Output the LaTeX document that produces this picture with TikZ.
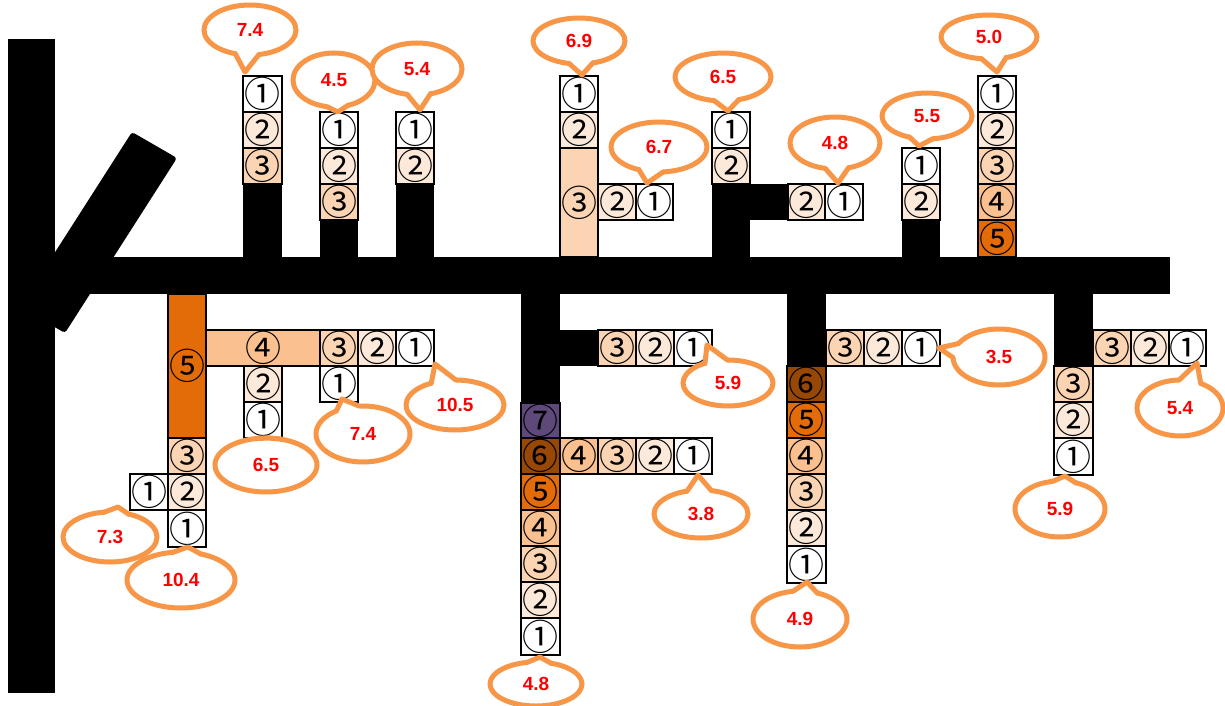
\documentclass[tikz,border=0pt]{standalone}
\usepackage{fontspec}
\setmainfont{Liberation Sans}
\newfontfamily\cjk{Noto Sans CJK JP}
\definecolor{cw}{HTML}{FFFFFF}
\definecolor{cb}{HTML}{FDE9D9}
\definecolor{cc}{HTML}{FBD4B4}
\definecolor{cd}{HTML}{FAC08F}
\definecolor{ce}{HTML}{E36C09}
\definecolor{cf}{HTML}{974806}
\definecolor{cg}{HTML}{5F497A}
\definecolor{bubc}{HTML}{F79646}
\definecolor{bubred}{HTML}{FF0000}
\tikzset{
  cel/.style={draw=black, line width=1.6pt, inner sep=0pt, text=black,
    font=\cjk\fontsize{36}{36}\selectfont},
  stem/.style={fill=black},
  bub/.style={draw=bubc, line width=5pt, fill=white},
  bubline/.style={draw=bubc, line width=5pt, line join=round, line cap=round},
  bubtext/.style={text=bubred, font=\bfseries\fontsize{19}{19}\selectfont},
}
\newcommand\cb[7]{%
  \pgfmathsetmacro\cbw{#4-#2}\pgfmathsetmacro\cbh{#5-#3}%
  \node[cel, fill=#6, minimum width=\cbw pt, minimum height=\cbh pt] (#1) at ({(#2+#4)/2},{(#3+#5)/2}) {#7};}
\newcommand\callout[8]{%
  \pgfmathsetmacro\cphi{atan2((#7-#3)/#5,(#6-#2)/#4)}%
  \pgfmathsetmacro\cax{#2+#4*cos(\cphi-15)}%
  \pgfmathsetmacro\cay{#3+#5*sin(\cphi-15)}%
  \pgfmathsetmacro\cbx{#2+#4*cos(\cphi+15)}%
  \pgfmathsetmacro\cby{#3+#5*sin(\cphi+15)}%
  \pgfmathsetmacro\ccx{#2+0.7*#4*cos(\cphi-15)}%
  \pgfmathsetmacro\ccy{#3+0.7*#5*sin(\cphi-15)}%
  \pgfmathsetmacro\cdx{#2+0.7*#4*cos(\cphi+15)}%
  \pgfmathsetmacro\cdy{#3+0.7*#5*sin(\cphi+15)}%
  \draw[bub] (#2,#3) ellipse [x radius=#4, y radius=#5];
  \fill[white] (\ccx,\ccy) -- (\cax,\cay) -- (#6,#7) -- (\cbx,\cby) -- (\cdx,\cdy) -- cycle;
  \draw[bubline] (\cax,\cay) -- (#6,#7) -- (\cbx,\cby);
  \node[bubtext] (#1) at (#2,#3) {#8};}
\begin{document}
\begin{tikzpicture}[x=1pt,y=-1pt]
\useasboundingbox (0,0) rectangle (1225,706);
% main structure
\fill[black, rounded corners=3pt] (132,132) -- (177,158) -- (65,333) -- (20,307) -- cycle;
\fill[black] (8,39) rectangle (55,693);
\fill[black] (8,257) rectangle (1170,294);
% ---- upper columns
% A
\fill[stem] (243,183) rectangle (282,258);
\cb{a1}{243}{76}{282}{112}{cw}{①}
\cb{a2}{243}{112}{282}{148}{cb}{②}
\cb{a3}{243}{148}{282}{184}{cc}{③}
% B
\fill[stem] (320,219) rectangle (358,258);
\cb{b1}{320}{112}{358}{148}{cw}{①}
\cb{b2}{320}{148}{358}{184}{cb}{②}
\cb{b3}{320}{184}{358}{220}{cc}{③}
% C
\fill[stem] (396,183) rectangle (434,258);
\cb{c1}{396}{112}{434}{148}{cw}{①}
\cb{c2}{396}{148}{434}{184}{cb}{②}
% D
\cb{d1}{560}{76}{598}{112}{cw}{①}
\cb{d2}{560}{112}{598}{148}{cb}{②}
\cb{d3}{560}{148}{598}{257}{cc}{③}
\cb{d4}{598}{184}{636}{220}{cb}{②}
\cb{d5}{636}{184}{673}{220}{cw}{①}
% E
\fill[stem] (712,183) rectangle (750,258);
\fill[stem] (749,184) rectangle (788,220);
\cb{e1}{712}{112}{750}{148}{cw}{①}
\cb{e2}{712}{148}{750}{184}{cb}{②}
\cb{e3}{788}{184}{825}{220}{cb}{②}
\cb{e4}{825}{184}{863}{220}{cw}{①}
% F
\fill[stem] (902,219) rectangle (940,258);
\cb{f1}{902}{148}{940}{184}{cw}{①}
\cb{f2}{902}{184}{940}{220}{cb}{②}
% G
\cb{g1}{978}{76}{1016}{112}{cw}{①}
\cb{g2}{978}{112}{1016}{148}{cb}{②}
\cb{g3}{978}{148}{1016}{184}{cc}{③}
\cb{g4}{978}{184}{1016}{220}{cd}{④}
\cb{g5}{978}{220}{1016}{257}{ce}{⑤}
% ---- lower columns
% H
\cb{h5}{168}{294}{206}{438}{ce}{⑤}
\cb{h3}{168}{438}{206}{474}{cc}{③}
\cb{h2}{168}{474}{206}{510}{cb}{②}
\cb{h1}{168}{510}{206}{547}{cw}{①}
\cb{hx}{130}{474}{168}{510}{cw}{①}
\cb{h4}{206}{330}{320}{366}{cd}{④}
\cb{hc}{320}{330}{358}{366}{cc}{③}
\cb{hb}{358}{330}{396}{366}{cb}{②}
\cb{ha}{396}{330}{434}{366}{cw}{①}
\cb{hs2}{244}{366}{282}{402}{cb}{②}
\cb{hs1}{244}{402}{282}{438}{cw}{①}
\cb{ht1}{320}{366}{358}{402}{cw}{①}
% I
\fill[stem] (521,293) rectangle (560,404);
\fill[stem] (559,330) rectangle (598,366);
\cb{iu3}{598}{330}{636}{366}{cc}{③}
\cb{iu2}{636}{330}{674}{366}{cb}{②}
\cb{iu1}{674}{330}{712}{366}{cw}{①}
\cb{i7}{521}{403}{560}{438}{cg}{⑦}
\cb{i6}{521}{438}{560}{474}{cf}{⑥}
\cb{i5}{521}{474}{560}{510}{ce}{⑤}
\cb{i4}{521}{510}{560}{546}{cd}{④}
\cb{i3}{521}{546}{560}{582}{cc}{③}
\cb{i2}{521}{582}{560}{618}{cb}{②}
\cb{i1}{521}{618}{560}{655}{cw}{①}
\cb{is4}{560}{438}{598}{474}{cd}{④}
\cb{is3}{598}{438}{636}{474}{cc}{③}
\cb{is2}{636}{438}{674}{474}{cb}{②}
\cb{is1}{674}{438}{712}{474}{cw}{①}
% J
\fill[stem] (787,293) rectangle (826,367);
\cb{j6}{787}{366}{826}{402}{cf}{⑥}
\cb{j5}{787}{402}{826}{438}{ce}{⑤}
\cb{j4}{787}{438}{826}{474}{cd}{④}
\cb{j3}{787}{474}{826}{510}{cc}{③}
\cb{j2}{787}{510}{826}{546}{cb}{②}
\cb{j1}{787}{546}{826}{583}{cw}{①}
\cb{jh3}{826}{330}{864}{366}{cc}{③}
\cb{jh2}{864}{330}{902}{366}{cb}{②}
\cb{jh1}{902}{330}{940}{366}{cw}{①}
% K
\fill[stem] (1054,293) rectangle (1093,367);
\cb{k3}{1054}{366}{1093}{402}{cc}{③}
\cb{k2}{1054}{402}{1093}{438}{cb}{②}
\cb{k1}{1054}{438}{1093}{475}{cw}{①}
\cb{kh3}{1093}{330}{1131}{366}{cc}{③}
\cb{kh2}{1131}{330}{1169}{366}{cb}{②}
\cb{kh1}{1169}{330}{1206}{366}{cw}{①}
% ---- callouts
\callout{t1}{250}{30}{46}{25}{245}{72}{7.4}
\callout{t2}{334}{80}{41}{27}{338}{112}{4.5}
\callout{t3}{417}{69}{45}{26}{420}{110}{5.4}
\callout{t4}{579}{41}{46}{23}{582}{75}{6.9}
\callout{t5}{659}{147}{48}{25}{647}{183}{6.7}
\callout{t6}{723}{77}{48}{24}{728}{111}{6.5}
\callout{t7}{835}{143}{45}{26}{838}{183}{4.8}
\callout{t8}{927}{116}{45}{23}{919}{146}{5.5}
\callout{t9}{989}{37}{48}{22}{997}{72}{5.0}
\callout{u1}{455}{405}{49}{25}{435}{364}{10.5}
\callout{u2}{363}{434}{47}{28}{342}{399}{7.4}
\callout{u3}{266}{465}{51}{27}{268}{438}{6.5}
\callout{u4}{110}{537}{47}{25}{118}{507}{7.3}
\callout{u5}{181}{580}{54}{28}{188}{547}{10.4}
\callout{u6}{728}{383}{45}{23}{707}{345}{5.9}
\callout{u7}{701}{514}{47}{24}{698}{475}{3.8}
\callout{u8}{536}{684}{46}{22}{540}{657}{4.8}
\callout{u9}{999}{357}{46}{28}{939}{348}{3.5}
\callout{u10}{800}{619}{47}{28}{807}{582}{4.9}
\callout{u11}{1060}{509}{45}{28}{1065}{476}{5.9}
\callout{u12}{1180}{408}{43}{28}{1197}{363}{5.4}
\end{tikzpicture}
\end{document}
